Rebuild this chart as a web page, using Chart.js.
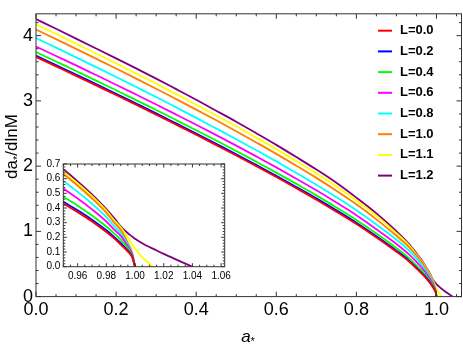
<!DOCTYPE html>
<html>
<head>
<meta charset="utf-8">
<script src="https://cdn.jsdelivr.net/npm/chart.js@4.4.0/dist/chart.umd.min.js"></script>
<style>
  body { margin: 0; background: #fff; }
  #wrap { position: relative; width: 463px; height: 344px; }
  #main { position: absolute; left: 0; top: 0; }
  #inset { position: absolute; left: 20px; top: 150px; }
</style>
</head>
<body>
<div id="wrap">
  <canvas id="main" width="463" height="344"></canvas>
  <canvas id="inset" width="215" height="135"></canvas>
</div>
<script>
// spin values a* (shared x grid for all curves)
const SPIN = [0, 0.05, 0.1, 0.15, 0.2, 0.25, 0.3, 0.35, 0.4, 0.45, 0.5, 0.55, 0.6, 0.65, 0.7,
  0.75, 0.8, 0.85, 0.9, 0.93, 0.95, 0.96, 0.97, 0.98, 0.985, 0.99, 0.995, 0.998, 1.0,
  1.005, 1.01, 1.012, 1.02, 1.03, 1.04];

// da*/dlnM, one list per L
const L00 = [3.674, 3.529, 3.384, 3.237, 3.090, 2.940, 2.789, 2.635, 2.480, 2.322, 2.163, 1.999, 1.833, 1.661, 1.486,
  1.302, 1.112, 0.905, 0.687, 0.545, 0.431, 0.372, 0.308, 0.236, 0.196, 0.151, 0.103, 0.065, 0];
const L02 = [3.694, 3.549, 3.404, 3.257, 3.110, 2.960, 2.809, 2.655, 2.500, 2.342, 2.183, 2.019, 1.853, 1.681, 1.506,
  1.322, 1.132, 0.924, 0.704, 0.560, 0.443, 0.384, 0.320, 0.248, 0.207, 0.162, 0.110, 0.069, 0];
const L04 = [3.749, 3.604, 3.459, 3.311, 3.163, 3.012, 2.861, 2.706, 2.550, 2.392, 2.233, 2.068, 1.901, 1.728, 1.552,
  1.367, 1.176, 0.967, 0.745, 0.597, 0.477, 0.416, 0.349, 0.274, 0.231, 0.185, 0.125, 0.076, 0];
const L06 = [3.834, 3.689, 3.544, 3.396, 3.248, 3.097, 2.945, 2.790, 2.634, 2.475, 2.315, 2.149, 1.981, 1.807, 1.629,
  1.442, 1.247, 1.034, 0.807, 0.655, 0.533, 0.465, 0.391, 0.308, 0.257, 0.210, 0.140, 0.084, 0];
const L08 = [3.964, 3.816, 3.667, 3.517, 3.367, 3.213, 3.059, 2.900, 2.740, 2.577, 2.413, 2.244, 2.073, 1.896, 1.715,
  1.524, 1.324, 1.105, 0.872, 0.715, 0.585, 0.510, 0.429, 0.338, 0.282, 0.230, 0.152, 0.090, 0];
const L10 = [4.094, 3.946, 3.797, 3.647, 3.496, 3.342, 3.187, 3.027, 2.866, 2.702, 2.535, 2.363, 2.188, 2.006, 1.820,
  1.624, 1.415, 1.184, 0.932, 0.767, 0.632, 0.552, 0.465, 0.367, 0.306, 0.251, 0.163, 0.096, 0];
const L11 = [4.174, 4.026, 3.877, 3.726, 3.575, 3.420, 3.264, 3.104, 2.942, 2.777, 2.610, 2.437, 2.261, 2.077, 1.889,
  1.690, 1.474, 1.237, 0.972, 0.797, 0.648, 0.567, 0.480, 0.382, 0.321, 0.268, 0.197, 0.152, 0.122,
  0.066, 0.020, 0];
const L12 = [4.254, 4.105, 3.955, 3.804, 3.652, 3.498, 3.342, 3.180, 3.017, 2.850, 2.681, 2.505, 2.326, 2.139, 1.948,
  1.745, 1.517, 1.275, 1.002, 0.817, 0.664, 0.582, 0.493, 0.393, 0.336, 0.275, 0.228, 0.205, 0.190,
  0.160, 0.134, 0.125, 0.087, 0.043, 0];

const LABELS = ['L=0.0', 'L=0.2', 'L=0.4', 'L=0.6', 'L=0.8', 'L=1.0', 'L=1.1', 'L=1.2'];
const COLORS = ['#ff0000', '#0000ff', '#00ff00', '#ff00ff', '#00ffff', '#ff8000', '#ffff00', '#800080'];
const SERIES = [L00, L02, L04, L06, L08, L10, L11, L12];

const MAIN_X_TICKS = [0, 0.2, 0.4, 0.6, 0.8, 1.0];
const MAIN_Y_TICKS = [0, 1, 2, 3, 4];
const INSET_X_TICKS = [0.96, 0.98, 1.00, 1.02, 1.04, 1.06];
const INSET_Y_TICKS = [0, 0.1, 0.2, 0.3, 0.4, 0.5, 0.6, 0.7];

const FONT = '"Liberation Sans", Arial, sans-serif';

function points(ys) {
    return ys.map((y, i) => ({ x: SPIN[i], y: y }));
}

function makeDatasets(width) {
    return SERIES.map((ys, i) => ({
        label: LABELS[i],
        data: points(ys),
        borderColor: COLORS[i],
        backgroundColor: COLORS[i],
        borderWidth: width,
        pointRadius: 0,
        cubicInterpolationMode: 'monotone',
        fill: false
    }));
}

// frame with inward ticks on all four sides (Mathematica style)
const framePlugin = {
    id: 'frame',
    afterDatasetsDraw(chart, args, o) {
        const { ctx, chartArea: ca, scales } = chart;
        const x = scales.x, y = scales.y;
        ctx.save();
        ctx.strokeStyle = '#333';
        ctx.lineWidth = 1;
        ctx.strokeRect(ca.left, ca.top, ca.right - ca.left, ca.bottom - ca.top);

        const xTick = (v, len) => {
            const px = x.getPixelForValue(v);
            ctx.moveTo(px, ca.bottom); ctx.lineTo(px, ca.bottom - len);
            ctx.moveTo(px, ca.top); ctx.lineTo(px, ca.top + len);
        };
        const yTick = (v, len) => {
            const py = y.getPixelForValue(v);
            ctx.moveTo(ca.left, py); ctx.lineTo(ca.left + len, py);
            ctx.moveTo(ca.right, py); ctx.lineTo(ca.right - len, py);
        };
        const minors = (min, max, step, majors) => {
            let out = [];
            for (let k = Math.ceil(min / step - 1e-9); k * step <= max + 1e-9; k++) {
                let v = k * step;
                if (!majors.some(m => Math.abs(m - v) < step / 10)) out.push(v);
            }
            return out;
        };

        ctx.beginPath();
        o.xMajor.forEach(v => xTick(v, o.major));
        minors(x.min, x.max, o.xStep, o.xMajor).forEach(v => xTick(v, o.minor));
        o.yMajor.forEach(v => yTick(v, o.major));
        minors(y.min, y.max, o.yStep, o.yMajor).forEach(v => yTick(v, o.minor));
        ctx.stroke();
        ctx.restore();
    }
};

const legendPlugin = {
    id: 'sideLegend',
    afterDraw(chart) {
        const ctx = chart.ctx;
        ctx.save();
        ctx.font = 'bold 13px ' + FONT;
        ctx.textBaseline = 'middle';
        ctx.textAlign = 'left';
        chart.data.datasets.forEach((ds, i) => {
            const ly = 30.7 + i * 20.7;
            ctx.strokeStyle = ds.borderColor;
            ctx.lineWidth = 2;
            ctx.beginPath();
            ctx.moveTo(378, ly);
            ctx.lineTo(392, ly);
            ctx.stroke();
            ctx.fillStyle = '#000';
            ctx.fillText(ds.label, 400, ly);
        });
        ctx.restore();
    }
};

// axis titles with the subscript star
const titlePlugin = {
    id: 'axisTitles',
    afterDraw(chart) {
        const ctx = chart.ctx;
        ctx.save();
        ctx.fillStyle = '#000';
        ctx.textBaseline = 'alphabetic';
        ctx.textAlign = 'left';

        // x title: a*
        ctx.font = 'italic 17px ' + FONT;
        let wa = ctx.measureText('a').width;
        ctx.font = '11px ' + FONT;
        let ws = ctx.measureText('*').width;
        let x0 = 248 - (wa + ws) / 2;
        ctx.font = 'italic 17px ' + FONT;
        ctx.fillText('a', x0, 341.5);
        ctx.font = '11px ' + FONT;
        ctx.fillText('*', x0 + wa, 345);

        // y title: da*/dlnM, rotated
        ctx.translate(17, 146.5);
        ctx.rotate(-Math.PI / 2);
        ctx.font = '17px ' + FONT;
        let w1 = ctx.measureText('da').width;
        let w3 = ctx.measureText('/dlnM').width;
        ctx.font = '11px ' + FONT;
        let w2 = ctx.measureText('*').width;
        let s = -(w1 + w2 + w3) / 2;
        ctx.font = '17px ' + FONT;
        ctx.fillText('da', s, 0);
        ctx.font = '11px ' + FONT;
        ctx.fillText('*', s + w1, 3.5);
        ctx.font = '17px ' + FONT;
        ctx.fillText('/dlnM', s + w1 + w2, 0);
        ctx.restore();
    }
};

const whiteArea = {
    id: 'whiteArea',
    beforeDraw(chart) {
        const { ctx, chartArea: ca } = chart;
        ctx.save();
        ctx.fillStyle = '#fff';
        ctx.fillRect(ca.left, ca.top, ca.right - ca.left, ca.bottom - ca.top);
        ctx.restore();
    }
};

function axis(min, max, tickList, fmt, size, pad, fitKey, fitVal) {
    return {
        type: 'linear',
        min: min,
        max: max,
        afterBuildTicks: s => { s.ticks = tickList.map(v => ({ value: v })); },
        afterFit: s => { s[fitKey] = fitVal; },
        grid: { display: false, drawTicks: false },
        border: { display: false },
        ticks: {
            autoSkip: false,
            maxRotation: 0,
            padding: pad,
            color: '#000',
            font: { family: FONT, size: size },
            callback: fmt
        }
    };
}

new Chart(document.getElementById('main'), {
    type: 'line',
    data: { datasets: makeDatasets(1.8) },
    options: {
        responsive: false,
        animation: false,
        layout: { padding: { top: 0.5, right: 1.5, left: 0, bottom: 0 } },
        plugins: {
            legend: { display: false },
            tooltip: { enabled: false },
            frame: { xMajor: MAIN_X_TICKS, xStep: 0.05, yMajor: MAIN_Y_TICKS, yStep: 0.2, major: 5, minor: 2.5 }
        },
        scales: {
            x: axis(0, 1.0625, MAIN_X_TICKS, v => v.toFixed(1), 18, 3, 'height', 344 - 296.6),
            y: axis(0, 4.335, MAIN_Y_TICKS, v => v.toFixed(0), 18, 3, 'width', 36)
        }
    },
    plugins: [framePlugin, legendPlugin, titlePlugin]
});

new Chart(document.getElementById('inset'), {
    type: 'line',
    data: { datasets: makeDatasets(1.8) },
    options: {
        responsive: false,
        animation: false,
        layout: { padding: { top: 14, right: 6.7, left: 0, bottom: 0 } },
        plugins: {
            legend: { display: false },
            tooltip: { enabled: false },
            frame: { xMajor: INSET_X_TICKS, xStep: 0.005, yMajor: INSET_Y_TICKS, yStep: 0.02, major: 3.5, minor: 2 }
        },
        scales: {
            x: axis(0.95, 1.0625, INSET_X_TICKS, v => v.toFixed(2), 10, 4, 'height', 135 - 116.7),
            y: axis(0, 0.7, INSET_Y_TICKS, v => v.toFixed(1), 10, 3, 'width', 43.3)
        }
    },
    plugins: [whiteArea, framePlugin]
});
</script>
</body>
</html>
